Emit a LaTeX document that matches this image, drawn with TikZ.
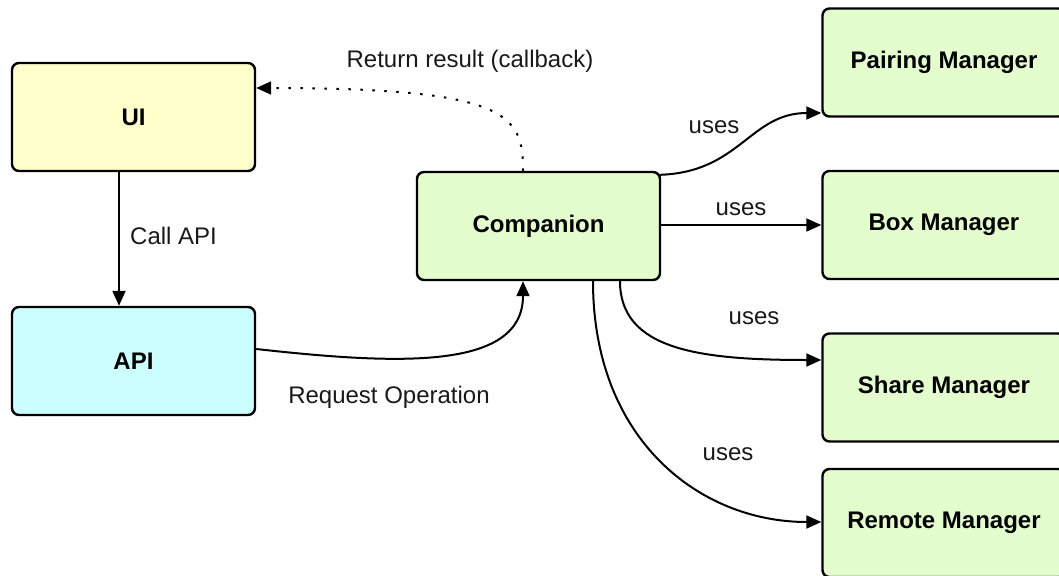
\documentclass[tikz,border=0pt]{standalone}
\usepackage{fontspec}
\setmainfont{Liberation Sans}
\usetikzlibrary{arrows.meta}
\definecolor{uiyellow}{RGB}{255,255,204}
\definecolor{apicyan}{RGB}{204,255,255}
\definecolor{mgrgreen}{RGB}{227,253,205}
\begin{document}
\begin{tikzpicture}[x=1pt,y=-1pt,
  box/.style={draw=black,line width=2.4pt,rounded corners=7pt,minimum width=243pt,minimum height=108pt,inner sep=0pt,font=\fontsize{24}{28}\selectfont\bfseries},
  conn/.style={line width=2pt,-{Triangle[length=15pt,width=13pt]}},
  lbl/.style={font=\fontsize{24}{28}\selectfont,text=black!90,inner sep=0pt}]
\useasboundingbox (0,0) rectangle (1059,575);
\clip (0,0) rectangle (1059,575);
% boxes
\node[box,fill=uiyellow] (ui) at (133.5,117) {UI};
\node[box,fill=apicyan] (api) at (133.5,361) {API};
\node[box,fill=mgrgreen] (comp) at (538.5,226) {Companion};
\node[box,fill=mgrgreen] (pair) at (944,62.5) {Pairing Manager};
\node[box,fill=mgrgreen] (boxm) at (944,225) {Box Manager};
\node[box,fill=mgrgreen] (share) at (944,387.5) {Share Manager};
\node[box,fill=mgrgreen] (remote) at (944,523) {Remote Manager};
% connectors
\draw[conn] (ui.south -| 119,0) -- (api.north -| 119,0);
\node[lbl,anchor=west] (lcall) at (130,236) {Call API};
\draw[conn] (api.east |- 0,349) .. controls (400,365) and (523,370) .. (comp.south -| 523,0);
\node[lbl] (lreq) at (389,397) {Request Operation};
\draw[conn,dash pattern=on 2.5pt off 9.5pt] (comp.north -| 523,0) .. controls (523,115) and (510,88) .. (ui.east |- 0,88);
\node[lbl] (lret) at (470,61) {Return result (callback)};
\coordinate (cpne) at ([xshift=-1pt,yshift=-4pt]comp.north east);
\draw[conn] (cpne) .. controls (740,172) and (750,113) .. (pair.west |- 0,113);
\node[lbl] (u1) at (714,127) {uses};
\draw[conn] (comp.east |- boxm.west) -- (boxm.west);
\node[lbl] (u2) at (741,209) {uses};
\draw[conn] (comp.south -| 620,0) .. controls (620,350) and (700,360) .. (share.west |- 0,360);
\node[lbl] (u3) at (754,318) {uses};
\draw[conn] (comp.south -| 593,0) .. controls (593,440) and (700,522) .. (remote.west |- 0,522);
\node[lbl] (u4) at (728,454) {uses};
\end{tikzpicture}
\end{document}
